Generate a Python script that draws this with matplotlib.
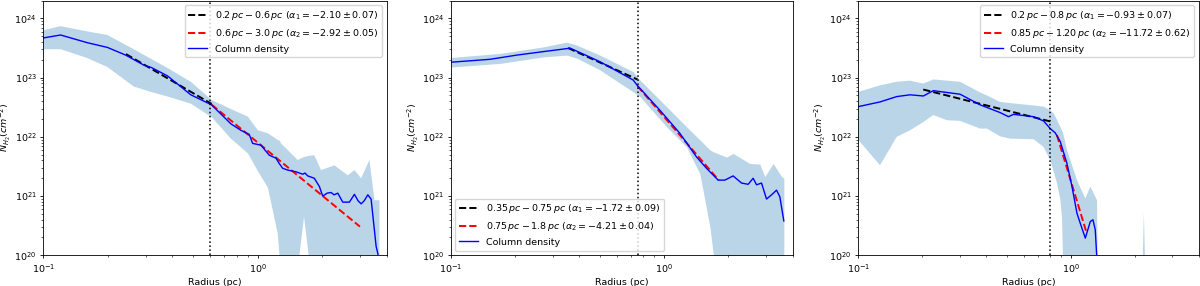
import matplotlib
matplotlib.use("Agg")
import matplotlib.pyplot as plt
from matplotlib.ticker import NullFormatter

plt.rcParams.update({
    "font.family": ["DejaVu Sans"],
    "font.size": 6.8,
    "legend.fontsize": 6.8,
    "axes.linewidth": 0.6,
    "xtick.major.size": 2.4, "ytick.major.size": 2.4,
    "xtick.minor.size": 1.4, "ytick.minor.size": 1.4,
    "xtick.major.width": 0.6, "ytick.major.width": 0.6,
    "xtick.minor.width": 0.45, "ytick.minor.width": 0.45,
    "xtick.major.pad": 2.4, "ytick.major.pad": 2.4,
    "axes.labelpad": 2.7,
})

# ---------------- Panel 1 ----------------
p1_r = [0.100, 0.1204, 0.1605, 0.1991, 0.2424, 0.2953, 0.3197, 0.3797, 0.4878, 0.6096,
        0.7502, 0.8356, 0.9136, 0.9475, 1.036, 1.133, 1.218, 1.261, 1.308, 1.381,
        1.510, 1.623, 1.663, 1.713, 1.838, 1.941, 2.012, 2.108, 2.200, 2.273,
        2.365, 2.496, 2.679, 2.828, 2.943, 3.039, 3.139, 3.266, 3.383, 3.571,
        3.637, 3.688]
p1_n = [4.68e23, 5.25e23, 3.89e23, 3.24e23, 2.40e23, 1.62e23, 1.48e23, 1.07e23, 5.13e22, 3.47e22,
        1.66e22, 1.29e22, 1.10e22, 7.76e21, 7.24e21, 4.90e21, 4.37e21, 3.55e21, 2.95e21, 2.75e21,
        2.57e21, 2.34e21, 2.45e21, 2.19e21, 2.00e21, 1.45e21, 1.00e21, 1.12e21, 1.15e21, 1.05e21,
        1.12e21, 7.9e20, 7.9e20, 1.07e21, 8.3e20, 7.4e20, 8.3e20, 1.05e21, 8.9e20, 1.41e20,
        1.07e20, 6.3e19]
p1_band_r = [0.100, 0.1204, 0.1605, 0.1991, 0.2642, 0.3172, 0.3808, 0.4878, 0.6115, 0.7502,
             0.9009, 1.003, 1.117, 1.240, 1.271, 1.285, 1.538, 1.560, 1.646, 1.737,
             1.838, 1.976, 2.280, 2.634, 2.828, 3.039, 3.323, 3.507, 3.700]
p1_band_hi = [6.31e23, 7.41e23, 6.03e23, 5.25e23, 3.02e23, 2.09e23, 1.45e23, 8.51e22, 4.17e22, 2.95e22,
              2.19e22, 1.29e22, 1.15e22, 8.91e21, 8.51e21, 7.76e21, 4.07e21, 4.17e21, 4.57e21, 4.79e21,
              4.90e21, 2.75e21, 3.31e21, 2.24e21, 2.75e21, 2.00e21, 4.07e21, 8.51e20, 8.51e20]
p1_band_lo = [3.02e23, 3.02e23, 2.14e23, 1.51e23, 7.08e22, 5.75e22, 4.79e22, 3.63e22, 2.14e22, 9.33e21,
              5.25e21, 2.63e21, 1.38e21, 2.34e20, 7.9e19, 3.2e19, 3.2e19, 8.9e19, 4.47e20, 8.9e19,
              1e19, 1e19, 1e19, 1e19, 1e19, 1e19, 1e19, 1e19, 1e19]
p1_fit1_r = [0.243, 0.61]
p1_fit1_n = [2.5e23, 3.6e22]
p1_fit2_r = [0.61, 3.0]
p1_fit2_n = [3.5e22, 3.05e20]
p1_break = 0.6
p1_labels = [r"$0.2\,pc - 0.6\,pc\ (\alpha_1 = -2.10 \pm 0.07)$",
             r"$0.6\,pc - 3.0\,pc\ (\alpha_2 = -2.92 \pm 0.05)$",
             "Column density"]

# ---------------- Panel 2 ----------------
p2_r = [0.100, 0.1528, 0.2037, 0.2714, 0.3493, 0.3618, 0.5000, 0.7158, 0.7475, 0.9547,
        1.184, 1.418, 1.579, 1.790, 1.924, 2.104, 2.303, 2.474, 2.611, 2.708,
        2.858, 3.016, 3.184, 3.359, 3.481, 3.635]
p2_n = [1.82e23, 2.04e23, 2.40e23, 2.75e23, 3.09e23, 3.16e23, 1.86e23, 9.12e22, 7.41e22, 2.82e22,
        1.15e22, 4.57e21, 2.95e21, 1.86e21, 1.86e21, 2.19e21, 1.66e21, 1.58e21, 2.00e21, 1.55e21,
        1.66e21, 8.91e20, 1.05e21, 1.26e21, 9.77e20, 3.80e20]
p2_band_r = [0.100, 0.1701, 0.2714, 0.3492, 0.3890, 0.5000, 0.7158, 0.7695, 1.026, 1.273,
             1.367, 1.469, 1.637, 1.696, 1.959, 2.104, 2.518, 2.805, 2.960, 3.238,
             3.545, 3.635]
p2_band_hi = [2.19e23, 2.57e23, 3.31e23, 3.98e23, 3.55e23, 2.40e23, 1.26e23, 9.12e22, 3.24e22, 1.48e22,
              1.15e22, 8.91e21, 6.03e21, 5.62e21, 4.57e21, 5.25e21, 3.55e21, 3.47e21, 2.14e21, 3.55e21,
              2.14e21, 2.00e21]
p2_band_lo = [1.51e23, 1.74e23, 2.24e23, 2.40e23, 2.14e23, 1.35e23, 5.75e22, 4.79e22, 1.48e22, 6.76e21,
              3.98e21, 2.40e21, 3.02e20, 1.07e20, 1e19, 1e19, 1e19, 1e19, 1e19, 1e19,
              1e19, 1e19]
p2_fit1_r = [0.355, 0.75]
p2_fit1_n = [3.16e23, 9.3e22]
p2_fit2_r = [0.75, 1.8]
p2_fit2_n = [7.2e22, 1.86e21]
p2_break = 0.75
p2_labels = [r"$0.35\,pc - 0.75\,pc\ (\alpha_1 = -1.72 \pm 0.09)$",
             r"$0.75\,pc - 1.8\,pc\ (\alpha_2 = -4.21 \pm 0.04)$",
             "Column density"]

# ---------------- Panel 3 ----------------
p3_r = [0.100, 0.1265, 0.1516, 0.1751, 0.2023, 0.2254, 0.2607, 0.3011, 0.3741, 0.4646,
        0.5084, 0.5368, 0.6667, 0.7430, 0.7990, 0.8434, 0.8905, 0.9576, 1.011, 1.067,
        1.106, 1.168, 1.233, 1.269, 1.301, 1.326]
p3_n = [3.24e22, 3.89e22, 4.79e22, 5.13e22, 4.90e22, 6.03e22, 5.62e22, 5.25e22, 3.47e22, 2.57e22,
        2.19e22, 2.40e22, 2.19e22, 1.86e22, 1.38e22, 1.17e22, 8.32e21, 3.55e21, 1.45e21, 5.13e20,
        3.47e20, 1.95e20, 3.72e20, 3.98e20, 2.69e20, 7.9e19]
p3_band_r = [0.100, 0.1265, 0.1516, 0.1751, 0.2023, 0.2254, 0.2607, 0.3011, 0.3741, 0.4023,
             0.4646, 0.5178, 0.6667, 0.7430, 0.7990, 0.8282, 0.8593, 0.8905, 0.9070, 0.9169,
             0.9576, 1.067, 1.168, 1.233, 1.326, 1.344, 2.143, 2.202, 2.262]
p3_band_hi = [5.75e22, 7.41e22, 8.51e22, 8.91e22, 7.94e22, 9.33e22, 8.91e22, 8.51e22, 5.62e22, 5.01e22,
              3.89e22, 3.72e22, 3.39e22, 3.24e22, 2.82e22, 2.51e22, 1.95e22, 1.48e22, 1.29e22, 1.20e22,
              6.03e21, 1.86e21, 9.12e20, 1.45e21, 8.51e20, 1e19, 1e19, 5.25e20, 1e19]
p3_band_lo = [8.91e21, 3.31e21, 1.00e22, 1.29e22, 1.78e22, 2.34e22, 1.91e22, 1.86e22, 1.38e22, 1.38e22,
              1.02e22, 9.33e21, 9.12e21, 6.76e21, 4.07e21, 2.63e21, 1.66e21, 8.91e20, 4.47e20, 1.00e20,
              1e18, 1e18, 1e18, 1e18, 1e18, 1e18, 1e18, 1e18, 1e18]
p3_fit1_r = [0.202, 0.80]
p3_fit1_n = [6.3e22, 1.82e22]
p3_fit2_r = [0.859, 1.18]
p3_fit2_n = [1.07e22, 2.5e20]
p3_break = 0.80
p3_labels = [r"$0.2\,pc - 0.8\,pc\ (\alpha_1 = -0.93 \pm 0.07)$",
             r"$0.85\,pc - 1.20\,pc\ (\alpha_2 = -11.72 \pm 0.62)$",
             "Column density"]

panels = [
    (p1_r, p1_n, p1_band_r, p1_band_hi, p1_band_lo, p1_fit1_r, p1_fit1_n, p1_fit2_r, p1_fit2_n, p1_break, p1_labels, "upper right"),
    (p2_r, p2_n, p2_band_r, p2_band_hi, p2_band_lo, p2_fit1_r, p2_fit1_n, p2_fit2_r, p2_fit2_n, p2_break, p2_labels, "lower left"),
    (p3_r, p3_n, p3_band_r, p3_band_hi, p3_band_lo, p3_fit1_r, p3_fit1_n, p3_fit2_r, p3_fit2_n, p3_break, p3_labels, "upper right"),
]

fig = plt.figure(figsize=(12, 2.86), dpi=100)
W, H = 1200.0, 286.0
boxes = [(43.3, 386.7), (450.7, 792.7), (858.3, 1199.0)]
top_px, bot_px = 0.6, 255.3

for (r, n, br, bhi, blo, f1r, f1n, f2r, f2n, brk, labels, loc), (x0, x1) in zip(panels, boxes):
    ax = fig.add_axes([x0 / W, (H - bot_px) / H, (x1 - x0) / W, (bot_px - top_px) / H])
    ax.set_xscale("log")
    ax.set_yscale("log")
    ax.fill_between(br, blo, bhi, color="C0", alpha=0.3, linewidth=0)
    h1, = ax.plot(f1r, f1n, color="black", ls="--", lw=1.4)
    h2, = ax.plot(f2r, f2n, color="red", ls="--", lw=1.4)
    h3, = ax.plot(r, n, color="blue", lw=1.0)
    ax.axvline(brk, color="black", ls=":", lw=1.1)
    ax.set_xlim(0.1, 4.0)
    ax.set_ylim(1e20, 2e24)
    ax.xaxis.set_minor_formatter(NullFormatter())
    ax.set_xlabel("Radius (pc)", labelpad=2.2)
    ax.set_ylabel(r"$N_{H_2} (cm^{-2})$", labelpad=0.8)
    ax.legend([h1, h2, h3], labels, loc=loc)

fig.savefig("out.png", dpi=100)
